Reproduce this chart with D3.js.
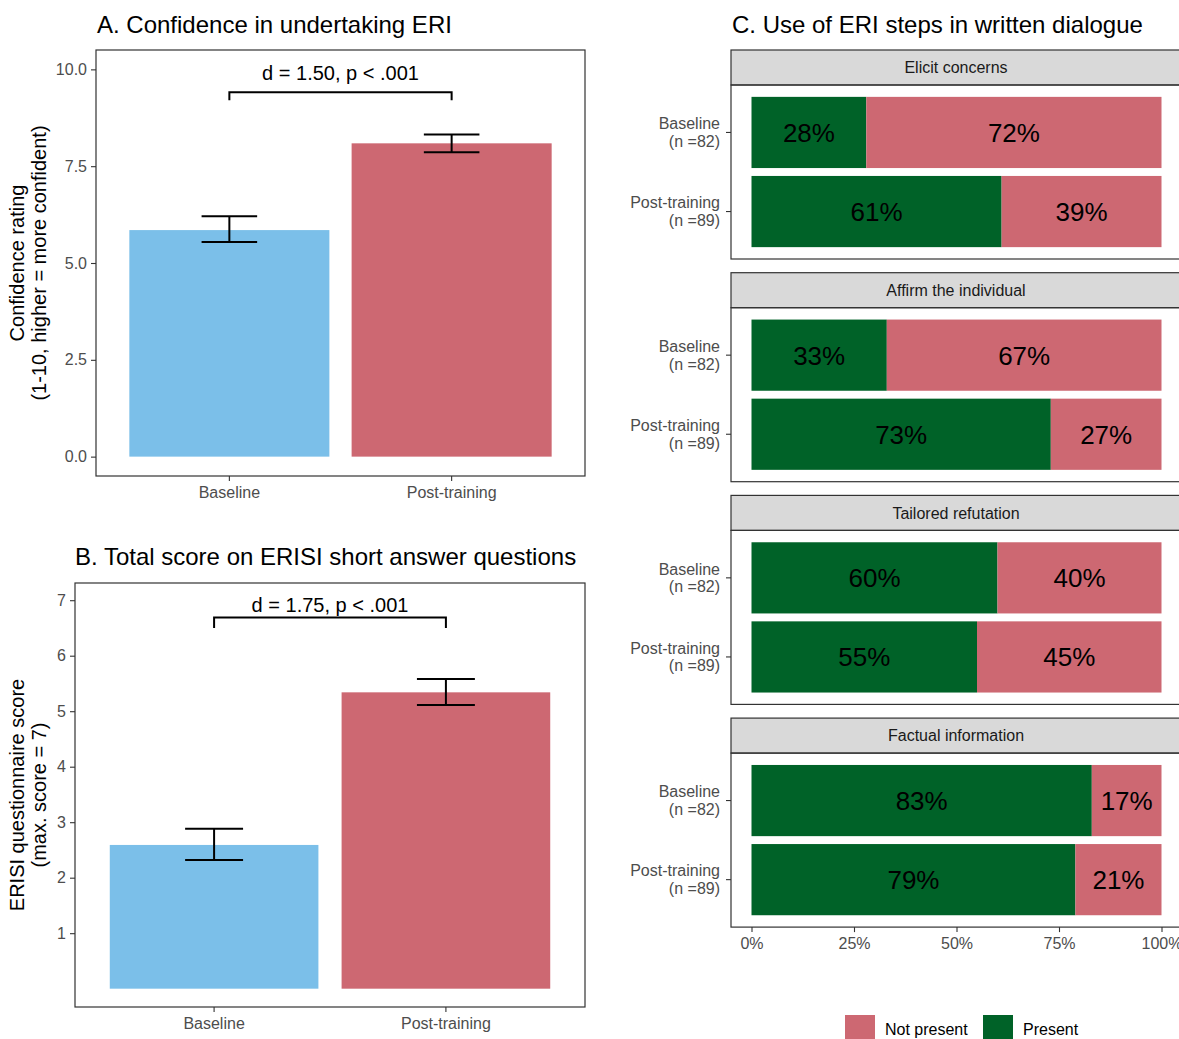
<!DOCTYPE html>
<html>
<head>
<meta charset="utf-8">
<script src="https://cdn.jsdelivr.net/npm/d3@7"></script>
<style>
  html, body { margin: 0; padding: 0; background: #fff; overflow: hidden; }
  svg { display: block; }
</style>
</head>
<body>
<script>
// ---------------- DATA ----------------
const groups = ["Baseline", "Post-training"];
const groupColors = ["#7BBFE9", "#CD6872"];

// Panel A: confidence rating
const confMean = [5.85, 8.09];
const confLow = [5.54, 7.86];
const confHigh = [6.21, 8.32];
const confTicks = [0, 2.5, 5, 7.5, 10];
const confStat = "d = 1.50, p < .001";
const confBracket = [9.41, 9.2, 9.72]; // bar, tips, label (data units)

// Panel B: ERISI score
const scoreMean = [2.59, 5.34];
const scoreLow = [2.32, 5.11];
const scoreHigh = [2.88, 5.58];
const scoreTicks = [1, 2, 3, 4, 5, 6, 7];
const scoreStat = "d = 1.75, p < .001";
const scoreBracket = [6.69, 6.5, 6.78];

// Panel C: use of ERI steps
const steps = ["Elicit concerns", "Affirm the individual", "Tailored refutation", "Factual information"];
const rowLabels = [["Baseline", "(n =82)"], ["Post-training", "(n =89)"]];
const presentPct = [[28, 61], [33, 73], [60, 55], [83, 79]];
const notPresentPct = [[72, 39], [67, 27], [40, 45], [17, 21]];
const pctTicks = [0, 25, 50, 75, 100];
const stackKeys = ["Present", "Not present"];
const stackColors = { "Present": "#006228", "Not present": "#CD6872" };
const legendKeys = ["Not present", "Present"];

// ---------------- SETUP ----------------
const W = 1179, H = 1039;
const FONT = "'Liberation Sans', Arial, Helvetica, sans-serif";
const svg = d3.select("body").append("svg")
  .attr("width", W).attr("height", H)
  .style("font-family", FONT);
svg.append("rect").attr("width", W).attr("height", H).attr("fill", "#fff");

const BORDER = "#333333";
const TICKTXT = "#4D4D4D";
const SMALL = "16px";

function styleAxis(g) {
  g.select(".domain").remove();
  g.selectAll(".tick line").attr("stroke", BORDER).attr("stroke-width", 1.1);
  g.selectAll(".tick text").attr("fill", TICKTXT).style("font-size", SMALL).style("font-family", FONT);
}

function barPanel(o) {
  const g = svg.append("g");
  const x = d3.scaleBand().domain(groups).range([o.left, o.right]).paddingInner(0.1).paddingOuter(0.15);
  const y = d3.scaleLinear().domain(o.yDomain).range([o.bottom, o.top]);

  // title
  g.append("text").attr("x", o.titleX).attr("y", o.titleY)
    .style("font-size", "24px").attr("fill", "#000").text(o.title);

  // bars
  g.selectAll("rect.bar").data(groups).join("rect").attr("class", "bar")
    .attr("x", d => x(d)).attr("width", x.bandwidth())
    .attr("y", (d, i) => y(o.means[i]))
    .attr("height", (d, i) => y(0) - y(o.means[i]))
    .attr("fill", (d, i) => groupColors[i]);

  // error bars
  const cap = x.step() * 0.125;
  groups.forEach((d, i) => {
    const cx = x(d) + x.bandwidth() / 2;
    g.append("line").attr("x1", cx).attr("x2", cx).attr("y1", y(o.low[i])).attr("y2", y(o.high[i]))
      .attr("stroke", "#000").attr("stroke-width", 2);
    [o.low[i], o.high[i]].forEach(v => {
      g.append("line").attr("x1", cx - cap).attr("x2", cx + cap).attr("y1", y(v)).attr("y2", y(v))
        .attr("stroke", "#000").attr("stroke-width", 2);
    });
  });

  // bracket
  const c0 = x(groups[0]) + x.bandwidth() / 2, c1 = x(groups[1]) + x.bandwidth() / 2;
  g.append("path")
    .attr("d", `M${c0},${y(o.bracket[1])}V${y(o.bracket[0])}H${c1}V${y(o.bracket[1])}`)
    .attr("fill", "none").attr("stroke", "#000").attr("stroke-width", 2);
  g.append("text").attr("x", (c0 + c1) / 2).attr("y", y(o.bracket[2]))
    .attr("text-anchor", "middle").style("font-size", "20px").attr("fill", "#000").text(o.stat);

  // panel border
  g.append("rect").attr("x", o.left).attr("y", o.top)
    .attr("width", o.right - o.left).attr("height", o.bottom - o.top)
    .attr("fill", "none").attr("stroke", BORDER).attr("stroke-width", 1.2);

  // axes
  g.append("g").attr("transform", `translate(${o.left},0)`)
    .call(d3.axisLeft(y).tickValues(o.ticks).tickFormat(o.fmt).tickSize(5).tickPadding(4))
    .call(styleAxis);
  g.append("g").attr("transform", `translate(0,${o.bottom})`)
    .call(d3.axisBottom(x).tickSize(5).tickPadding(4))
    .call(styleAxis)
    .selectAll(".tick text").attr("dy", "0.8em");

  // y title
  const yt = g.append("text")
    .attr("transform", `translate(${o.yTitleX},${(o.top + o.bottom) / 2}) rotate(-90)`)
    .attr("text-anchor", "middle").style("font-size", "20px").attr("fill", "#000");
  o.yTitle.forEach((line, i) => {
    yt.append("tspan").attr("x", 0).attr("dy", i === 0 ? 0 : "1.1em").text(line);
  });
}

barPanel({
  left: 96, right: 585, top: 50, bottom: 476,
  yDomain: [-0.5, 10.5], ticks: confTicks, fmt: d3.format(".1f"),
  means: confMean, low: confLow, high: confHigh,
  bracket: confBracket, stat: confStat,
  title: "A. Confidence in undertaking ERI", titleX: 97, titleY: 33,
  yTitle: ["Confidence rating", "(1-10, higher = more confident)"], yTitleX: 24
});

barPanel({
  left: 75, right: 585, top: 583, bottom: 1007,
  yDomain: [-0.33, 7.31], ticks: scoreTicks, fmt: d3.format("d"),
  means: scoreMean, low: scoreLow, high: scoreHigh,
  bracket: scoreBracket, stat: scoreStat,
  title: "B. Total score on ERISI short answer questions", titleX: 75, titleY: 565,
  yTitle: ["ERISI questionnaire score", "(max. score = 7)"], yTitleX: 24
});

// ---------------- PANEL C ----------------
const cLeft = 731, cRight = 1182;
const stripTop0 = 50, facetStep = 222.7, stripH = 35, panelH = 174;
const xC = d3.scaleLinear().domain([-5, 105]).range([cLeft, cRight]);

svg.append("text").attr("x", 732).attr("y", 33)
  .style("font-size", "24px").attr("fill", "#000").text("C. Use of ERI steps in written dialogue");

const stack = d3.stack().keys(stackKeys);

steps.forEach((step, fi) => {
  const g = svg.append("g");
  const sTop = stripTop0 + fi * facetStep;
  const pTop = sTop + stripH, pBot = pTop + panelH;
  const yC = d3.scaleBand().domain(groups).range([pTop, pBot]).paddingInner(0.1).paddingOuter(0.15);

  // strip
  g.append("rect").attr("x", cLeft).attr("y", sTop).attr("width", cRight - cLeft).attr("height", stripH)
    .attr("fill", "#D9D9D9").attr("stroke", BORDER).attr("stroke-width", 1.2);
  g.append("text").attr("x", (cLeft + cRight) / 2 - 0.5).attr("y", sTop + stripH / 2)
    .attr("dy", "0.35em").attr("text-anchor", "middle")
    .style("font-size", SMALL).attr("fill", "#1A1A1A").text(step);

  const table = groups.map((gr, i) => ({ group: gr, "Present": presentPct[fi][i], "Not present": notPresentPct[fi][i] }));
  const series = stack(table);
  series.forEach(s => {
    g.selectAll(null).data(s).join("rect")
      .attr("x", d => xC(d[0])).attr("width", d => xC(d[1]) - xC(d[0]))
      .attr("y", d => yC(d.data.group)).attr("height", yC.bandwidth())
      .attr("fill", stackColors[s.key]);
    g.selectAll(null).data(s).join("text")
      .attr("x", d => (xC(d[0]) + xC(d[1])) / 2)
      .attr("y", d => yC(d.data.group) + yC.bandwidth() / 2)
      .attr("dy", "0.36em").attr("text-anchor", "middle")
      .style("font-size", "26px").attr("fill", "#000")
      .text(d => (d[1] - d[0]) + "%");
  });

  // panel border
  g.append("rect").attr("x", cLeft).attr("y", pTop).attr("width", cRight - cLeft).attr("height", panelH)
    .attr("fill", "none").attr("stroke", BORDER).attr("stroke-width", 1.2);

  // y axis with two-line labels
  const ax = g.append("g").attr("transform", `translate(${cLeft},0)`)
    .call(d3.axisLeft(yC).tickSize(5).tickPadding(6))
    .call(styleAxis);
  ax.selectAll(".tick text").each(function (d, i) {
    const t = d3.select(this).text(null).attr("dy", null);
    rowLabels[i].forEach((line, li) => {
      t.append("tspan").attr("x", -11).attr("dy", li === 0 ? "-0.2em" : "1.1em").text(line);
    });
  });

  if (fi === steps.length - 1) {
    g.append("g").attr("transform", `translate(0,${pBot})`)
      .call(d3.axisBottom(xC).tickValues(pctTicks).tickFormat(d => d + "%").tickSize(5).tickPadding(4))
      .call(styleAxis)
      .selectAll(".tick text").attr("dy", "0.8em");
  }
});

// legend
const legX = [845, 983];
legendKeys.forEach((k, i) => {
  svg.append("rect").attr("x", legX[i]).attr("y", 1015).attr("width", 30).attr("height", 30)
    .attr("fill", stackColors[k]);
  svg.append("text").attr("x", legX[i] + 40).attr("y", 1035)
    .style("font-size", SMALL).attr("fill", "#000").text(k);
});
</script>
</body>
</html>
